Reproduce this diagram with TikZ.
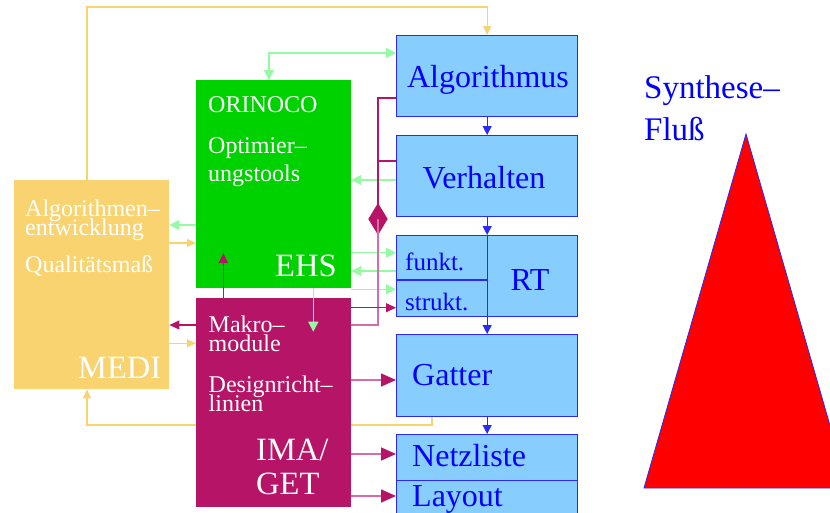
\documentclass[tikz,border=0pt]{standalone}
\usepackage{fontspec}
\setmainfont{Liberation Serif}
\usetikzlibrary{arrows.meta}
\definecolor{bfill}{RGB}{135,206,255}
\definecolor{bline}{RGB}{40,40,255}
\definecolor{ehsg}{RGB}{0,210,0}
\definecolor{imam}{RGB}{182,20,102}
\definecolor{medio}{RGB}{248,211,112}
\definecolor{lgreen}{RGB}{150,250,165}
\definecolor{pinkl}{RGB}{214,110,165}
\begin{document}
\begin{tikzpicture}[x=1pt,y=-1pt,
  bbox/.style={draw=bline, line width=1.3pt, fill=bfill, rectangle, inner sep=0pt, anchor=north west, minimum width=181pt},
  cbox/.style={rectangle, inner sep=0pt, anchor=north west, minimum width=155pt},
  txt/.style={inner sep=0pt, anchor=base west},
  ctxt/.style={inner sep=0pt, anchor=base},
  tsm/.style={font=\fontsize{24}{24}\selectfont},
  tbg/.style={font=\fontsize{32.5}{32.5}\selectfont},
  tbl/.style={font=\fontsize{32}{32}\selectfont, text=blue},
  tfk/.style={font=\fontsize{25}{25}\selectfont, text=blue},
  garr/.style={draw=lgreen, line width=1.3pt, -{Triangle[length=10pt,width=10pt]}},
  gdbl/.style={draw=lgreen, line width=1.3pt, {Triangle[length=10pt,width=10pt]}-{Triangle[length=10pt,width=10pt]}},
  mline/.style={draw=imam, line width=1.2pt},
  marr/.style={draw=imam, line width=1.2pt, -{Triangle[length=10pt,width=9pt]}},
  pline/.style={draw=pinkl, line width=1.6pt},
  bigm/.style={draw=pinkl, line width=1.6pt, -{Triangle[length=15pt,width=13pt,color=imam]}},
  oarr/.style={draw=medio, line width=1.2pt, -{Triangle[length=9pt,width=8pt]}},
  bl/.style={draw=bline, line width=1.2pt},
  barr/.style={draw=bline, line width=1.2pt, -{Triangle[length=9pt,width=9pt]}}
]
\useasboundingbox (0,0) rectangle (830,512);
\clip (0,0) rectangle (830,512);

% big coloured boxes
\node[cbox, fill=medio, minimum height=209pt] (medi) at (14,180) {};
\node[cbox, fill=ehsg, minimum height=208pt] (ehs) at (196,80) {};

% blue level boxes
\node[bbox, minimum height=81pt] (alg) at (396,35) {};
\node[bbox, minimum height=81pt] (verh) at (396,135) {};
\node[bbox, minimum height=81pt] (rt) at (396,235) {};
\node[bbox, minimum height=82pt] (gat) at (396,334) {};
\node[bbox, minimum height=46pt] (netz) at (396,434) {};
\node[bbox, minimum height=50pt] (lay) at (396,480) {};

% lower orange feedback line (behind IMA box)
\coordinate (obot) at (87,425);
\draw[oarr] (gat.south -| 432,0) |- (obot) -- (medi.south -| obot);

\node[cbox, fill=imam, minimum height=209pt] (ima) at (196,298) {};

% red triangle
\filldraw[fill=red, draw=bline, line width=0.8pt] (644,488) -- (746,134) -- (848,488) -- cycle;

% texts
\node[txt,tsm,white] (o1) at (208,112.3) {ORINOCO};
\node[txt,tsm,white] (o2) at (208,153.3) {Optimier–};
\node[txt,tsm,white] (o3) at (208,181.7) {ungstools};
\node[txt,tbg,white] (o4) at (275,276.7) {EHS};

\node[txt,tsm,white] (m1) at (25,216) {Algorithmen–};
\node[txt,tsm,white] (m2) at (25,235) {entwicklung};
\node[txt,tsm,white] (m3) at (25,272.7) {Qualitätsmaß};
\node[txt,tbg,white] (m4) at (78,378.3) {MEDI};

\node[txt,tsm,white] (i1) at (208.5,332.7) {Makro–};
\node[txt,tsm,white] (i2) at (208.5,351.7) {module};
\node[txt,tsm,white] (i3) at (208.5,392.7) {Designricht–};
\node[txt,tsm,white] (i4) at (208.5,411) {linien};
\node[txt,tbg,white] (i5) at (256,460.7) {IMA/};
\node[txt,tbg,white] (i6) at (256,494) {GET};

\node[ctxt,tbl] (b1) at (488,87.3) {Algorithmus};
\node[ctxt,tbl] (b2) at (484,188.3) {Verhalten};
\node[txt,tfk] (b3) at (405,270) {funkt.};
\node[txt,tfk] (b4) at (405,310) {strukt.};
\node[ctxt,tbl] (b5) at (530,290.7) {RT};
\node[txt,tbl] (b6) at (412,385) {Gatter};
\node[txt,tbl] (b7) at (412,466.7) {Netzliste};
\node[txt,tbl] (b8) at (412,506.5) {Layout};

\node[txt,tbl,font=\fontsize{33}{33}\selectfont] (s1) at (644,98.3) {Synthese–};
\node[txt,tbl,font=\fontsize{33}{33}\selectfont] (s2) at (644,140) {Fluß};

% blue flow
\draw[barr] (alg.south) -- (verh.north);
\draw[barr] (verh.south) -- (rt.north);
\draw[bl] (rt.north) -- (rt.south);
\draw[bl] (rt.west |- 0,280) -- (rt.north |- 0,280);
\draw[barr] (rt.south) -- (gat.north);
\draw[barr] (gat.south) -- (netz.north);

% top orange line
\coordinate (otop) at (87,7);
\draw[oarr] (medi.north -| otop) -- (otop) -| (alg.north);

% green connectors
\coordinate (gx) at (269,53);
\coordinate (gdn) at (313.3,331.7);
\draw[gdbl] (ehs.north -| gx) -- (gx) -- (alg.west |- gx);
\draw[garr] (verh.west |- 0,180) -- (ehs.east |- 0,180);
\draw[garr] (ehs.east |- 0,252.7) -- (rt.west |- 0,252.7);
\draw[garr] (rt.west |- 0,271) -- (ehs.east |- 0,271);
\draw[garr] (ehs.east |- 0,289.3) -- (rt.west |- 0,289.3);
\draw[garr] (ehs.south -| gdn) -- (gdn);
\draw[garr] (ehs.west |- 0,225) -- (medi.east |- 0,225);

% orange side arrows
\draw[oarr] (medi.east |- 0,243) -- (ehs.west |- 0,243);
\draw[oarr] (medi.east |- 0,343.3) -- (ima.west |- 0,343.3);

% magenta connectors
\coordinate (jx) at (378,0);
\coordinate (mup) at (223.3,253);
\draw[mline, -{Triangle[length=16pt,width=19pt]}] (alg.west |- 0,98) -| (jx |- 0,235);
\draw[mline] (verh.west |- 0,161) -- (jx |- 0,161);
\draw[pline, -{Triangle[length=16pt,width=19pt,color=imam]}] (ima.east |- 0,325) -| (jx |- 0,203);
\draw[marr] (ima.east |- 0,307.7) -- (rt.west |- 0,307.7);
\draw[marr] (ima.north -| mup) -- (mup);
\draw[marr] (ima.west |- 0,325) -- (medi.east |- 0,325);
\draw[bigm] (ima.east |- 0,380) -- (gat.west |- 0,380);
\draw[bigm] (ima.east |- 0,454) -- (netz.west |- 0,454);
\draw[bigm] (ima.east |- 0,496) -- (lay.west |- 0,496);
\end{tikzpicture}
\end{document}
